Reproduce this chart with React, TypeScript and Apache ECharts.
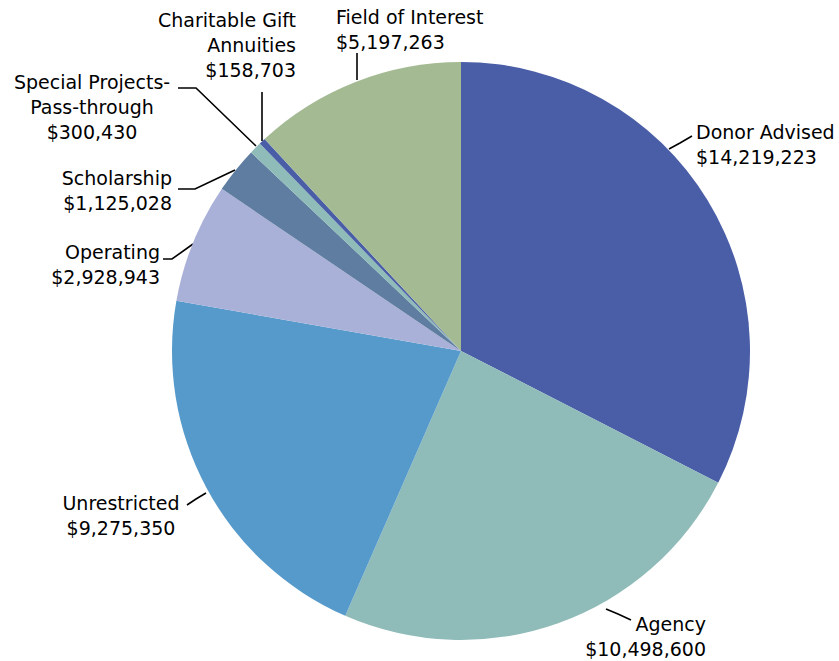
import React, { useEffect, useRef } from "react";
import * as echarts from "echarts";

const categories = [
  "Donor Advised",
  "Agency",
  "Unrestricted",
  "Operating",
  "Scholarship",
  "Special Projects-\nPass-through",
  "Charitable Gift\nAnnuities",
  "Field of Interest",
];
const values = [14219223, 10498600, 9275350, 2928943, 1125028, 300430, 158703, 5197263];
const colors = ["#4a5ea8", "#8fbbb8", "#559acb", "#aab1d8", "#5f7da0", "#8fbbb8", "#4a5ea8", "#a4ba93"];

// label placement: [x, y, align, line points]
const labelPlacement: [number, number, string, number[][]][] = [
  [696, 144, "left", [[669, 149], [680, 143], [692, 136]]],
  [706, 636, "right", [[606, 609], [618, 614], [631, 620]]],
  [121, 515, "center", [[206, 493], [196, 499], [187, 505]]],
  [160, 264, "right", [[193, 244], [172, 259], [163, 259]]],
  [172, 190, "right", [[235, 170], [195, 189], [178, 189]]],
  [92, 107, "center", [[256, 146], [196, 88], [178, 88]]],
  [296, 45, "right", [[262, 141], [262, 115], [262, 92]]],
  [336, 29, "left", [[357, 80], [357, 66], [357, 53]]],
];

export default function App() {
  const ref = useRef<HTMLDivElement>(null);
  useEffect(() => {
    const chart = echarts.init(ref.current!, undefined, { renderer: "svg" });
    chart.setOption({
      animation: false,
      series: [
        {
          type: "pie",
          center: [461, 351],
          radius: 289,
          startAngle: 90,
          clockwise: true,
          avoidLabelOverlap: false,
          data: categories.map((name, i) => ({
            name,
            value: values[i],
            itemStyle: { color: colors[i] },
          })),
          label: {
            show: true,
            formatter: (p: any) => `${p.name}\n$${Number(p.value).toLocaleString("en-US")}`,
            fontFamily: "DejaVu Sans",
            fontSize: 19,
            lineHeight: 25,
            color: "#000",
          },
          labelLine: {
            show: true,
            lineStyle: { color: "#000", width: 1.6 },
          },
          labelLayout: (params: any) => {
            const p = labelPlacement[params.dataIndex];
            return {
              x: p[0],
              y: p[1],
              align: p[2],
              verticalAlign: "middle",
              labelLinePoints: p[3],
            };
          },
          emphasis: { disabled: true },
        },
      ],
    });
    return () => chart.dispose();
  }, []);
  return (
    <div
      ref={ref}
      style={{ position: "fixed", left: 0, top: 0, width: 839, height: 661, background: "#fff" }}
    />
  );
}
